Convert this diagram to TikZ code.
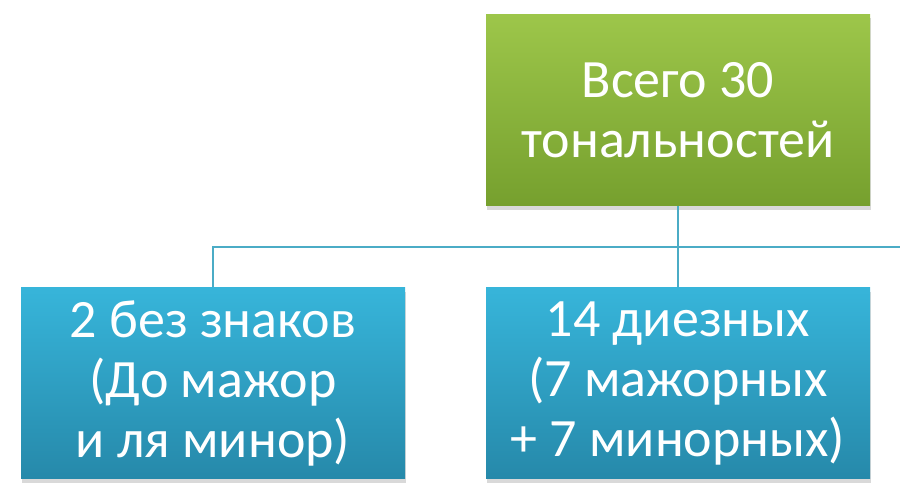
\documentclass[tikz,border=0pt]{standalone}
\usepackage{fontspec}
\setmainfont{Carlito}
\usepackage{xcolor}
\usepackage{tikz}
\usetikzlibrary{shadows}
\definecolor{leafTop}{HTML}{9DC64A}
\definecolor{leafBot}{HTML}{76A02E}
\definecolor{seaTop}{HTML}{37B5DA}
\definecolor{seaBot}{HTML}{2689AA}
\definecolor{linkcol}{HTML}{4BACC6}
\tikzset{
    keybox/.style={
        rectangle, minimum width=384pt, minimum height=191pt, inner sep=0pt,
        align=center, text=white,
        font=\fontsize{54}{60}\selectfont,
        drop shadow={shadow xshift=1pt, shadow yshift=-4pt, opacity=0.3}
    },
    greenbox/.style={keybox, top color=leafTop, bottom color=leafBot},
    bluebox/.style={keybox, top color=seaTop, bottom color=seaBot},
    link/.style={color=linkcol, line width=2.2pt}
}

\begin{document}
\begin{tikzpicture}[x=1pt, y=-1pt]
    \useasboundingbox (0,0) rectangle (900,500);
    \node[greenbox] (total) at (678,110) {Всего 30\\тональностей};
    \node[bluebox] (plain) at (213,383) {2 без знаков\\(До мажор\\и ля минор)};
    \node[bluebox] (sharps) at (678,383) {14 диезных\\(7 мажорных\\+ 7 минорных)};
    \coordinate (bar) at (900,247);
    \draw[link] (total.south) -- (total.south |- bar);
    \draw[link] (plain.north) -- (plain.north |- bar) -- (bar);
    \draw[link] (sharps.north) -- (sharps.north |- bar);
\end{tikzpicture}
\end{document}
